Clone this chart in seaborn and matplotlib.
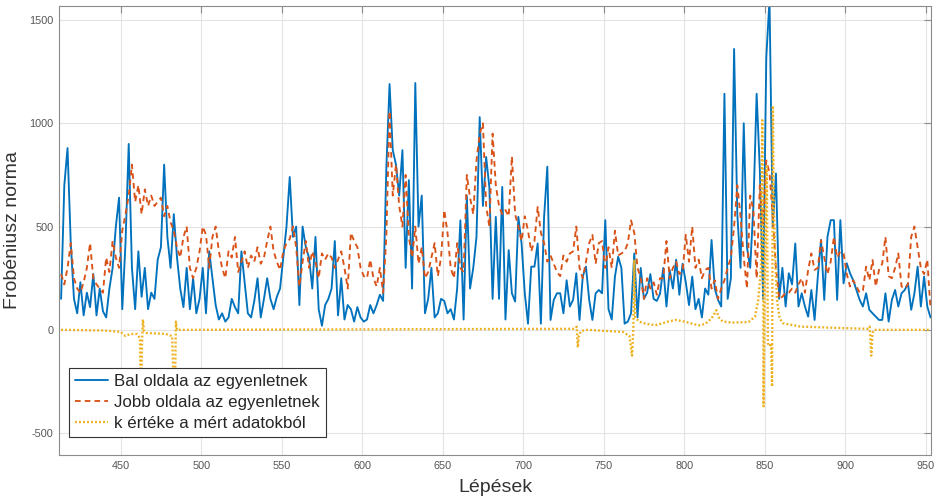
import numpy as np
import pandas as pd
import matplotlib
matplotlib.use("Agg")
import matplotlib.pyplot as plt
import seaborn as sns

# ---------------- data ----------------
steps = np.arange(413, 954, 2)

bal = [
    # 413-467
    150, 700, 880, 420, 150, 80, 230, 70, 180, 110, 270, 70, 200, 90, 60, 200, 300, 500, 640, 100, 420, 900, 300, 100, 380, 160, 300, 100,
    # 469-525
    180, 150, 340, 400, 800, 450, 300, 560, 350, 200, 110, 300, 100, 250, 80, 150, 300, 80, 380, 250, 120, 50, 80, 40, 60, 150, 110, 80, 380,
    # 527-579
    230, 80, 60, 140, 250, 60, 150, 250, 150, 100, 160, 200, 350, 500, 740, 450, 500, 120, 500, 400, 350, 200, 450, 100, 20, 120, 150,
    # 581-635
    200, 430, 70, 250, 50, 120, 100, 40, 110, 60, 40, 50, 120, 80, 120, 170, 140, 780, 1190, 870, 800, 650, 870, 300, 725, 200, 1195, 500,
    # 637-691
    650, 80, 150, 300, 60, 80, 150, 140, 80, 100, 50, 200, 530, 50, 650, 200, 300, 450, 1030, 600, 837, 690, 150, 547, 150, 692, 50, 386,
    # 693-747
    177, 137, 547, 418, 177, 30, 306, 306, 418, 30, 547, 790, 48, 145, 177, 177, 80, 240, 113, 145, 274, 48, 258, 306, 145, 48, 177, 193,
    # 749-803
    177, 531, 100, 50, 258, 354, 300, 30, 40, 80, 370, 60, 300, 150, 180, 270, 150, 140, 175, 300, 113, 290, 200, 340, 170, 320, 230, 120,
    # 805-859
    258, 100, 150, 60, 200, 170, 435, 200, 145, 113, 1143, 150, 250, 1360, 560, 300, 1000, 400, 300, 600, 1143, 773, 150, 1320, 1600, 500, 757, 150,
    # 861-899
    300, 113, 274, 220, 418, 113, 177, 113, 64, 193, 48, 258, 435, 145, 450, 531, 531, 145, 531, 225,
    # 901-953
    322, 274, 240, 193, 145, 113, 177, 97, 80, 64, 48, 48, 177, 40, 145, 193, 113, 177, 193, 225, 97, 177, 306, 113, 258, 113, 60,
]

jobb = [
    # 413-467
    270, 220, 300, 420, 250, 200, 180, 230, 300, 420, 250, 220, 200, 180, 350, 280, 430, 350, 300, 480, 560, 650, 800, 620, 700, 560, 680, 600,
    # 469-525
    650, 600, 620, 640, 550, 600, 520, 480, 400, 350, 450, 500, 300, 250, 300, 380, 500, 460, 300, 450, 500, 380, 300, 250, 380, 350, 450, 280, 330,
    # 527-579
    380, 300, 360, 330, 400, 320, 350, 430, 500, 380, 330, 290, 380, 420, 440, 500, 400, 210, 330, 430, 300, 380, 330, 250, 370, 340, 370,
    # 581-635
    350, 300, 340, 380, 300, 200, 470, 430, 400, 300, 260, 250, 340, 250, 210, 300, 180, 450, 1060, 650, 800, 600, 500, 750, 450, 350, 500, 320,
    # 637-691
    400, 250, 280, 350, 420, 260, 350, 580, 470, 300, 250, 420, 300, 280, 750, 640, 560, 820, 950, 1000, 600, 500, 950, 700, 600, 560, 580, 550,
    # 693-747
    840, 560, 500, 430, 550, 480, 380, 430, 595, 470, 420, 330, 360, 320, 280, 260, 360, 330, 370, 380, 500, 300, 250, 330, 420, 460, 320, 420,
    # 749-803
    430, 300, 400, 300, 480, 360, 370, 380, 420, 530, 470, 300, 250, 150, 250, 200, 230, 170, 250, 250, 430, 250, 300, 330, 270, 280, 460, 330,
    # 805-859
    500, 300, 340, 250, 290, 300, 200, 240, 150, 200, 240, 300, 350, 500, 700, 550, 350, 200, 650, 580, 250, 700, 500, 820, 760, 550, 300, 150,
    # 861-899
    160, 180, 180, 200, 180, 220, 250, 180, 290, 370, 290, 300, 435, 350, 270, 330, 450, 350, 380, 370,
    # 901-953
    270, 210, 240, 210, 180, 190, 306, 240, 338, 210, 290, 320, 450, 260, 250, 300, 370, 210, 200, 220, 450, 500, 400, 300, 270, 340, 100,
]

k_steps = [413, 440, 450, 453, 456, 460, 462, 462.6, 463.2, 463.8, 464.5, 466, 478, 482, 483.5, 484.3, 485,
           732, 733.3, 733.9, 734.6, 736, 740, 762, 766, 767.6, 768.4, 769, 769.6, 772, 776, 782, 790, 795,
           800, 805, 809, 813, 817, 820, 821.5, 824, 830, 840, 844, 846, 847.7, 848.5, 849, 849.3, 849.9,
           850.5, 851.3, 852, 853, 854, 854.6, 855.1, 855.6, 856.8, 857.6, 859.3, 861.3, 872, 900, 914,
           915.2, 916.2, 917, 918, 953]
k_vals = [0, -3, -10, -30, -20, -20, -40, -450, -80, 50, -5, -15, -20, -30, -450, 40, 0,
          5, 15, -85, -30, -5, 0, -10, -30, -125, 0, 340, 60, 40, 30, 22, 40, 48,
          40, 30, 22, 28, 55, 95, 60, 40, 35, 38, 64, 145, 300, 1015, 450, -370, 140,
          460, 790, -65, -80, -65, -275, 1085, 630, 300, 145, 56, 32, 16, 8, 5,
          16, -125, -15, 0, 0]

labels = ["Bal oldala az egyenletnek", "Jobb oldala az egyenletnek", "k értéke a mért adatokból"]
xlabel = "Lépések"
ylabel = "Frobéniusz norma"
xticks = [450, 500, 550, 600, 650, 700, 750, 800, 850, 900, 950]
yticks = [-500, 0, 500, 1000, 1500]

df_main = pd.DataFrame({"step": steps, "bal": bal, "jobb": jobb})
df_k = pd.DataFrame({"step": k_steps, "k": k_vals})

# ---------------- style ----------------
sns.set_style("white")
plt.rcParams["font.family"] = ["Liberation Sans", "DejaVu Sans"]
plt.rcParams["axes.unicode_minus"] = False

fig = plt.figure(figsize=(9.4, 4.97), dpi=100)
ax = fig.add_axes([59 / 940, 1 - 455 / 497, (931 - 59) / 940, (455 - 6) / 497])

sns.lineplot(data=df_main, x="step", y="bal", ax=ax, color="#0072BD", linewidth=1.35,
             label=labels[0], sort=False)
sns.lineplot(data=df_main, x="step", y="jobb", ax=ax, color="#D95319", linewidth=1.35,
             linestyle=(0, (3.0, 2.2)), label=labels[1], sort=False)
sns.lineplot(data=df_k, x="step", y="k", ax=ax, color="#EDB120", linewidth=1.7,
             linestyle=(0, (0.8, 0.9)), label=labels[2], sort=False)

ax.set_xlim(411.7, 953.3)
ax.set_ylim(-606, 1568)
ax.set_xticks(xticks)
ax.set_yticks(yticks)
ax.grid(True, color="#e3e3e3", linewidth=0.8)
ax.set_axisbelow(True)
for s in ax.spines.values():
    s.set_color("#8c8c8c")
    s.set_linewidth(0.8)
ax.tick_params(direction="in", length=5, width=0.8, color="#8c8c8c",
               top=True, right=True, labelsize=7.8, labelcolor="#555555", pad=4)
ax.set_xlabel(xlabel, fontsize=14, color="#333333", labelpad=6)
ax.set_ylabel(ylabel, fontsize=14, color="#333333", labelpad=6)

leg = ax.legend(loc="lower left", bbox_to_anchor=(10 / 872, 18 / 449), borderaxespad=0,
                fontsize=12.2, frameon=True, fancybox=False, framealpha=1,
                edgecolor="#333333", handlelength=2.0, handletextpad=0.35,
                labelspacing=0.38, borderpad=0.33)
leg.get_frame().set_linewidth(0.8)

fig.savefig("out.png", dpi=100)
